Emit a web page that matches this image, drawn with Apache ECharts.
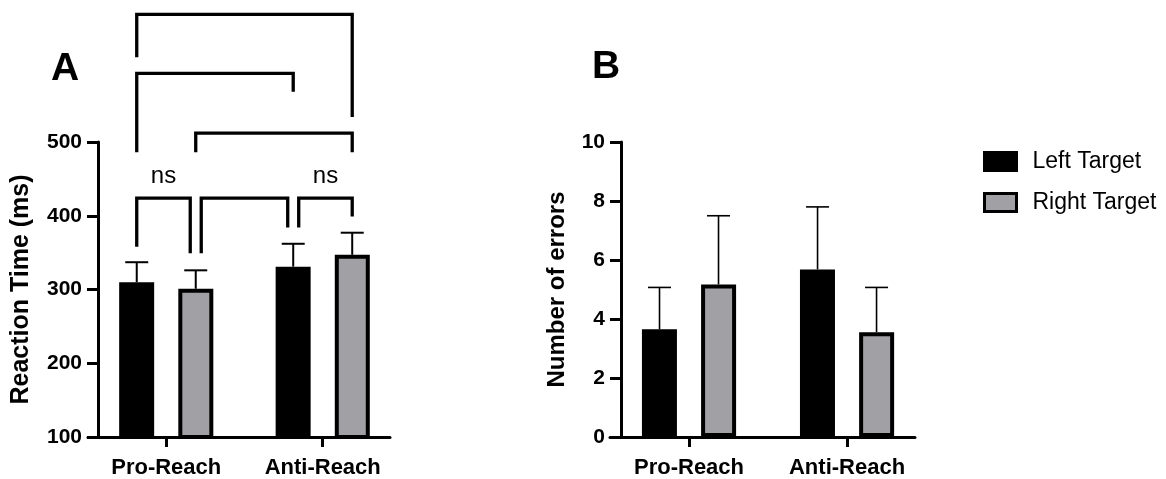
<!DOCTYPE html>
<html>
<head>
    <meta charset="utf-8">
    <title>Reaction time and errors</title>
    <script src="https://cdn.jsdelivr.net/npm/echarts@6/dist/echarts.min.js"></script>
    <style>
        html, body { margin: 0; padding: 0; background: #fff; }
        #main { width: 1166px; height: 479px; }
    </style>
</head>
<body>
<div id="main"></div>
<script type="text/javascript">
    // categories and series
    var categories = ['Pro-Reach', 'Anti-Reach'];
    var seriesNames = ['Left Target', 'Right Target'];

    // panel A: reaction time (ms), mean and SD
    var rtLeft = [310, 331];
    var rtLeftSD = [27, 31];
    var rtRight = [301, 347];
    var rtRightSD = [25, 30];
    var rtTicks = [100, 200, 300, 400, 500];

    // panel B: number of errors, mean and SD
    var errLeft = [3.65, 5.68];
    var errLeftSD = [1.42, 2.12];
    var errRight = [5.17, 3.55];
    var errRightSD = [2.33, 1.52];
    var errTicks = [0, 2, 4, 6, 8, 10];

    // significance brackets on panel A (bar index 0..3, y in ms)
    var bracketPairs = [[0, 3], [0, 2], [1, 3], [0, 1], [1, 2], [2, 3]];
    var bracketTop = [673, 593, 512, 424, 424, 424];
    var bracketLeftEnd = [615, 486, 486, 358, 349, 384];
    var bracketRightEnd = [534, 568, 486, 349, 384, 399];
    var bracketLabels = ['', '', '', 'ns', '', 'ns'];

    var FONT = 'Liberation Sans';
    var GRAY = '#a0a0a5';
    var HALF = 29.5; // px offset of each bar from its category centre

    var myChart = echarts.init(document.getElementById('main'));

    function pts(vals) {
        return vals.map(function (v, i) { return [i + 1, v]; });
    }
    function errRows(vals, sds) {
        return vals.map(function (v, i) { return [i + 1, v, v + sds[i]]; });
    }

    function errorSeries(idx, rows, side, lw) {
        return {
            type: 'custom',
            xAxisIndex: idx,
            yAxisIndex: idx,
            clip: false,
            z: 5,
            silent: true,
            data: rows,
            renderItem: function (params, api) {
                var base = api.coord([api.value(0), api.value(1)]);
                var top = api.coord([api.value(0), api.value(2)]);
                var x = base[0] + side * HALF;
                return {
                    type: 'group',
                    children: [
                        {type: 'line', shape: {x1: x, y1: base[1], x2: x, y2: top[1]},
                            style: {stroke: '#000', lineWidth: lw}},
                        {type: 'line', shape: {x1: x - 11.5, y1: top[1], x2: x + 11.5, y2: top[1]},
                            style: {stroke: '#000', lineWidth: lw}}
                    ]
                };
            }
        };
    }

    function barSeries(idx, name, vals, color) {
        return {
            name: name,
            type: 'bar',
            xAxisIndex: idx,
            yAxisIndex: idx,
            barWidth: 35,
            barGap: '69%',
            itemStyle: {color: color, borderColor: '#000', borderWidth: 4},
            data: pts(vals)
        };
    }

    var bracketRows = bracketPairs.map(function (p, i) {
        return [p[0], p[1], bracketTop[i], bracketLeftEnd[i], bracketRightEnd[i], i];
    });

    function barX(api, i) {
        var cat = 1 + Math.floor(i / 2);
        return api.coord([cat, 100])[0] + (i % 2 ? HALF : -HALF);
    }

    var xAxisCommon = {
        type: 'value',
        min: 0.5,
        max: 2.43,
        splitLine: {show: false},
        axisLine: {lineStyle: {color: '#000', width: 3}},
        axisTick: {customValues: [1, 2], length: 10, lineStyle: {color: '#000', width: 3}},
        axisLabel: {
            customValues: [1, 2],
            margin: 20,
            formatter: function (v) { return categories[Math.round(v) - 1]; },
            fontFamily: FONT, fontWeight: 'bold', fontSize: 22, color: '#000'
        }
    };

    function yAxisDef(idx, name, min, max, interval, offset, gap, nameSize) {
        return {
            type: 'value',
            gridIndex: idx,
            min: min,
            max: max,
            interval: interval,
            offset: offset,
            name: name,
            nameLocation: 'middle',
            nameRotate: 90,
            nameGap: gap,
            nameTextStyle: {fontFamily: FONT, fontWeight: 'bold', fontSize: nameSize, color: '#000'},
            splitLine: {show: false},
            axisLine: {show: true, lineStyle: {color: '#000', width: 3}},
            axisTick: {show: true, length: 11, lineStyle: {color: '#000', width: 3}},
            axisLabel: {margin: 16, fontFamily: FONT, fontWeight: 'bold', fontSize: 21, color: '#000'}
        };
    }

    var option = {
        backgroundColor: '#fff',
        animation: false,
        title: [
            {text: 'A', left: 46, top: 45, textStyle: {fontFamily: FONT, fontWeight: 'bold', fontSize: 39, color: '#000'}},
            {text: 'B', left: 587, top: 43, textStyle: {fontFamily: FONT, fontWeight: 'bold', fontSize: 39, color: '#000'}}
        ],
        legend: {
            orient: 'vertical',
            left: 983,
            top: 150,
            padding: 0,
            itemWidth: 32,
            itemHeight: 18,
            itemGap: 18,
            icon: 'rect',
            textStyle: {fontFamily: FONT, fontSize: 23, color: '#000', padding: [0, 0, 0, 11]},
            data: [
                {name: seriesNames[0], itemStyle: {color: '#000', borderColor: '#000', borderWidth: 3}},
                {name: seriesNames[1], itemStyle: {color: GRAY, borderColor: '#000', borderWidth: 3}}
            ]
        },
        grid: [
            {left: 88, top: 142, width: 302, height: 296},
            {left: 610, top: 142, width: 305, height: 296}
        ],
        xAxis: [
            Object.assign({gridIndex: 0}, xAxisCommon),
            Object.assign({gridIndex: 1}, xAxisCommon)
        ],
        yAxis: [
            yAxisDef(0, 'Reaction Time (ms)', rtTicks[0], rtTicks[rtTicks.length - 1], 100, -10, 64, 25),
            yAxisDef(1, 'Number of errors', errTicks[0], errTicks[errTicks.length - 1], 2, -11, 52, 24)
        ],
        series: [
            barSeries(0, seriesNames[0], rtLeft, '#000'),
            barSeries(0, seriesNames[1], rtRight, GRAY),
            barSeries(1, seriesNames[0], errLeft, '#000'),
            barSeries(1, seriesNames[1], errRight, GRAY),
            errorSeries(0, errRows(rtLeft, rtLeftSD), -1, 2),
            errorSeries(0, errRows(rtRight, rtRightSD), 1, 2),
            errorSeries(1, errRows(errLeft, errLeftSD), -1, 1.6),
            errorSeries(1, errRows(errRight, errRightSD), 1, 1.6),
            {
                type: 'custom',
                xAxisIndex: 0,
                yAxisIndex: 0,
                clip: false,
                silent: true,
                z: 6,
                data: bracketRows,
                renderItem: function (params, api) {
                    var a = api.value(0), b = api.value(1), j = api.value(5);
                    var xl = barX(api, a), xr = barX(api, b);
                    // nudge ends shared with a neighbouring bracket on the same row
                    for (var k = 0; k < bracketPairs.length; k++) {
                        if (k === j || bracketTop[k] !== bracketTop[j]) continue;
                        if (bracketPairs[k][0] === b) xr -= 5.5;
                        if (bracketPairs[k][1] === a) xl += 5.5;
                    }
                    var yt = api.coord([1, api.value(2)])[1];
                    var yl = api.coord([1, api.value(3)])[1];
                    var yr = api.coord([1, api.value(4)])[1];
                    var children = [{
                        type: 'polyline',
                        shape: {points: [[xl, yl], [xl, yt], [xr, yt], [xr, yr]]},
                        style: {stroke: '#000', lineWidth: 3.3, fill: null}
                    }];
                    if (bracketLabels[j]) {
                        children.push({
                            type: 'text',
                            x: (xl + xr) / 2,
                            y: yt - 22,
                            style: {text: bracketLabels[j], fontFamily: FONT, fontSize: 24,
                                fill: '#000', align: 'center', verticalAlign: 'middle'}
                        });
                    }
                    return {type: 'group', children: children};
                }
            }
        ]
    };

    myChart.setOption(option);
</script>
</body>
</html>
